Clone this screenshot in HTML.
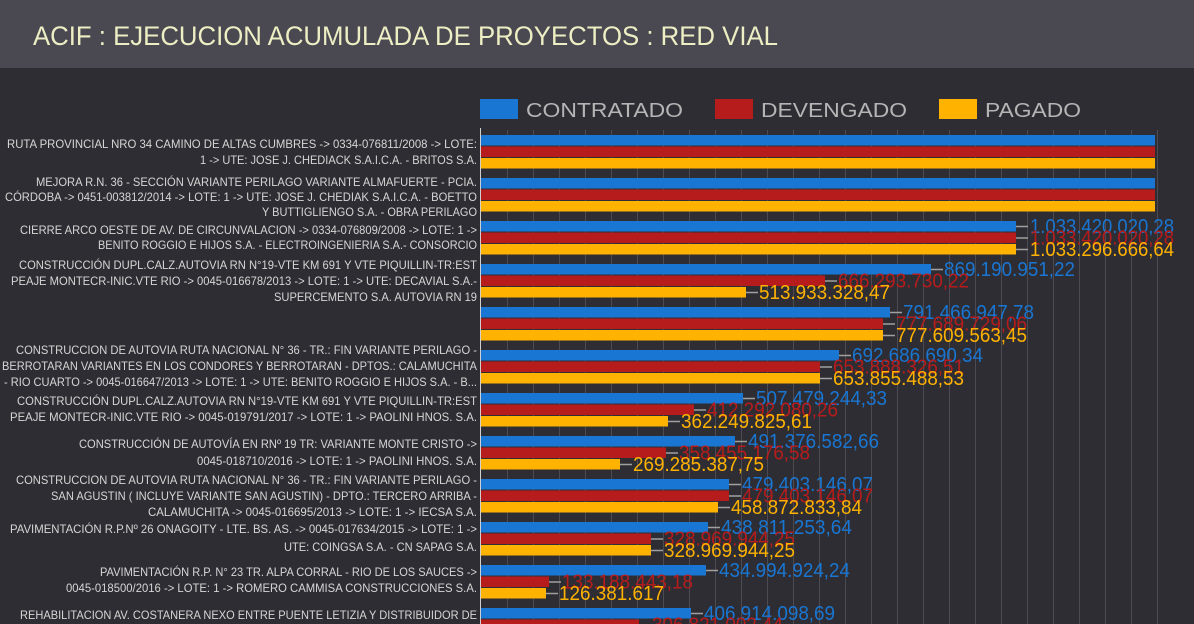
<!DOCTYPE html>
<html><head><meta charset="utf-8"><style>
html,body{margin:0;padding:0;background:#2e2d33;width:1194px;height:624px;overflow:hidden}
svg{display:block}
.yl{font-family:"Liberation Sans Narrow","Liberation Sans",sans-serif;font-size:12px;fill:#d6d6d6}
.v{font-family:"Liberation Sans Narrow","Liberation Sans",sans-serif;font-size:20px}
.b{fill:#1976d2}.r{fill:#b71c1c}.y{fill:#ffb300}
</style></head><body>
<svg width="1194" height="624" xmlns="http://www.w3.org/2000/svg">
<rect x="0" y="0" width="1194" height="68" fill="#4a4951"/>
<text x="33" y="45" font-family="Liberation Sans Narrow,Liberation Sans,sans-serif" font-size="27" fill="#eeeec4" textLength="745" lengthAdjust="spacingAndGlyphs">ACIF : EJECUCION ACUMULADA DE PROYECTOS : RED VIAL</text>
<rect x="480" y="99" width="38" height="20" fill="#1976d2"/>
<text x="526" y="117" font-family="Liberation Sans,sans-serif" font-size="20" fill="#b5b5b5" textLength="157" lengthAdjust="spacingAndGlyphs">CONTRATADO</text>
<rect x="715" y="99" width="38" height="20" fill="#b71c1c"/>
<text x="761" y="117" font-family="Liberation Sans,sans-serif" font-size="20" fill="#b5b5b5" textLength="146" lengthAdjust="spacingAndGlyphs">DEVENGADO</text>
<rect x="939" y="99" width="38" height="20" fill="#ffb300"/>
<text x="985" y="117" font-family="Liberation Sans,sans-serif" font-size="20" fill="#b5b5b5" textLength="96" lengthAdjust="spacingAndGlyphs">PAGADO</text>
<g stroke="#4c4b52" stroke-width="1">
<line x1="507.5" y1="130" x2="507.5" y2="624"/><line x1="533.5" y1="130" x2="533.5" y2="624"/><line x1="559.5" y1="130" x2="559.5" y2="624"/><line x1="585.5" y1="130" x2="585.5" y2="624"/><line x1="611.5" y1="130" x2="611.5" y2="624"/><line x1="637.5" y1="130" x2="637.5" y2="624"/><line x1="663.5" y1="130" x2="663.5" y2="624"/><line x1="689.5" y1="130" x2="689.5" y2="624"/><line x1="715.5" y1="130" x2="715.5" y2="624"/><line x1="741.5" y1="130" x2="741.5" y2="624"/><line x1="767.5" y1="130" x2="767.5" y2="624"/><line x1="793.5" y1="130" x2="793.5" y2="624"/><line x1="819.5" y1="130" x2="819.5" y2="624"/><line x1="845.5" y1="130" x2="845.5" y2="624"/><line x1="871.5" y1="130" x2="871.5" y2="624"/><line x1="897.5" y1="130" x2="897.5" y2="624"/><line x1="923.5" y1="130" x2="923.5" y2="624"/><line x1="949.5" y1="130" x2="949.5" y2="624"/><line x1="975.5" y1="130" x2="975.5" y2="624"/><line x1="1001.5" y1="130" x2="1001.5" y2="624"/><line x1="1027.5" y1="130" x2="1027.5" y2="624"/><line x1="1053.5" y1="130" x2="1053.5" y2="624"/><line x1="1079.5" y1="130" x2="1079.5" y2="624"/><line x1="1105.5" y1="130" x2="1105.5" y2="624"/><line x1="1131.5" y1="130" x2="1131.5" y2="624"/><line x1="1157.5" y1="130" x2="1157.5" y2="624"/>
</g>
<line x1="480.5" y1="128" x2="480.5" y2="624" stroke="#d0d0d0" stroke-width="1"/>
<g>
<rect x="481" y="135" width="674" height="10.5" class="b"/><rect x="481" y="146.5" width="674" height="10.5" class="r"/><rect x="481" y="158" width="674" height="10.5" class="y"/>
<rect x="481" y="178" width="674" height="10.5" class="b"/><rect x="481" y="189.5" width="674" height="10.5" class="r"/><rect x="481" y="201" width="674" height="10.5" class="y"/>
<rect x="481" y="221" width="535" height="10.5" class="b"/><rect x="481" y="232.5" width="535" height="10.5" class="r"/><rect x="481" y="244" width="535" height="10.5" class="y"/>
<rect x="481" y="264" width="450" height="10.5" class="b"/><rect x="481" y="275.5" width="344" height="10.5" class="r"/><rect x="481" y="287" width="265" height="10.5" class="y"/>
<rect x="481" y="307" width="409" height="10.5" class="b"/><rect x="481" y="318.5" width="402" height="10.5" class="r"/><rect x="481" y="330" width="402" height="10.5" class="y"/>
<rect x="481" y="350" width="358" height="10.5" class="b"/><rect x="481" y="361.5" width="339" height="10.5" class="r"/><rect x="481" y="373" width="339" height="10.5" class="y"/>
<rect x="481" y="393" width="262" height="10.5" class="b"/><rect x="481" y="404.5" width="213" height="10.5" class="r"/><rect x="481" y="416" width="187" height="10.5" class="y"/>
<rect x="481" y="436" width="254" height="10.5" class="b"/><rect x="481" y="447.5" width="185" height="10.5" class="r"/><rect x="481" y="459" width="139" height="10.5" class="y"/>
<rect x="481" y="479" width="248" height="10.5" class="b"/><rect x="481" y="490.5" width="248" height="10.5" class="r"/><rect x="481" y="502" width="237" height="10.5" class="y"/>
<rect x="481" y="522" width="227" height="10.5" class="b"/><rect x="481" y="533.5" width="170" height="10.5" class="r"/><rect x="481" y="545" width="170" height="10.5" class="y"/>
<rect x="481" y="565" width="225" height="10.5" class="b"/><rect x="481" y="576.5" width="68" height="10.5" class="r"/><rect x="481" y="588" width="65" height="10.5" class="y"/>
<rect x="481" y="608" width="210" height="10.5" class="b"/><rect x="481" y="619.5" width="158" height="10.5" class="r"/>
</g>
<g stroke="#a0a0a0" stroke-width="1.5">
<line x1="1016" y1="226.5" x2="1028" y2="226.5"/><line x1="1016" y1="238" x2="1028" y2="238"/><line x1="1016" y1="249.5" x2="1028" y2="249.5"/>
<line x1="931" y1="269.5" x2="943" y2="269.5"/><line x1="825" y1="281" x2="837" y2="281"/><line x1="746" y1="292.5" x2="758" y2="292.5"/>
<line x1="890" y1="312.5" x2="902" y2="312.5"/><line x1="883" y1="324" x2="895" y2="324"/><line x1="883" y1="335.5" x2="895" y2="335.5"/>
<line x1="839" y1="355.5" x2="851" y2="355.5"/><line x1="820" y1="367" x2="832" y2="367"/><line x1="820" y1="378.5" x2="832" y2="378.5"/>
<line x1="743" y1="398.5" x2="755" y2="398.5"/><line x1="694" y1="410" x2="706" y2="410"/><line x1="668" y1="421.5" x2="680" y2="421.5"/>
<line x1="735" y1="441.5" x2="747" y2="441.5"/><line x1="666" y1="453" x2="678" y2="453"/><line x1="620" y1="464.5" x2="632" y2="464.5"/>
<line x1="729" y1="484.5" x2="741" y2="484.5"/><line x1="729" y1="496" x2="741" y2="496"/><line x1="718" y1="507.5" x2="730" y2="507.5"/>
<line x1="708" y1="527.5" x2="720" y2="527.5"/><line x1="651" y1="539" x2="663" y2="539"/><line x1="651" y1="550.5" x2="663" y2="550.5"/>
<line x1="706" y1="570.5" x2="718" y2="570.5"/><line x1="549" y1="582" x2="561" y2="582"/><line x1="546" y1="593.5" x2="558" y2="593.5"/>
<line x1="691" y1="613.5" x2="703" y2="613.5"/><line x1="639" y1="625" x2="651" y2="625"/>
</g>
<g class="v">
<text x="1030" y="233" class="b" textLength="144" lengthAdjust="spacingAndGlyphs">1.033.420.020,28</text>
<text x="1030" y="244.5" class="r" textLength="144" lengthAdjust="spacingAndGlyphs">1.033.420.020,28</text>
<text x="1030" y="256" class="y" textLength="144" lengthAdjust="spacingAndGlyphs">1.033.296.666,64</text>
<text x="944" y="276" class="b" textLength="131" lengthAdjust="spacingAndGlyphs">869.190.951,22</text>
<text x="838" y="287.5" class="r" textLength="131" lengthAdjust="spacingAndGlyphs">666.293.730,22</text>
<text x="759" y="299" class="y" textLength="131" lengthAdjust="spacingAndGlyphs">513.933.328,47</text>
<text x="903" y="319" class="b" textLength="131" lengthAdjust="spacingAndGlyphs">791.466.947,78</text>
<text x="896" y="330.5" class="r" textLength="131" lengthAdjust="spacingAndGlyphs">777.689.729,06</text>
<text x="896" y="342" class="y" textLength="131" lengthAdjust="spacingAndGlyphs">777.609.563,45</text>
<text x="852" y="362" class="b" textLength="131" lengthAdjust="spacingAndGlyphs">692.686.690,34</text>
<text x="833" y="373.5" class="r" textLength="131" lengthAdjust="spacingAndGlyphs">653.888.326,51</text>
<text x="833" y="385" class="y" textLength="131" lengthAdjust="spacingAndGlyphs">653.855.488,53</text>
<text x="756" y="405" class="b" textLength="131" lengthAdjust="spacingAndGlyphs">507.479.244,33</text>
<text x="707" y="416.5" class="r" textLength="131" lengthAdjust="spacingAndGlyphs">412.292.080,26</text>
<text x="681" y="428" class="y" textLength="131" lengthAdjust="spacingAndGlyphs">362.249.825,61</text>
<text x="748" y="448" class="b" textLength="131" lengthAdjust="spacingAndGlyphs">491.376.582,66</text>
<text x="679" y="459.5" class="r" textLength="131" lengthAdjust="spacingAndGlyphs">358.455.176,58</text>
<text x="633" y="471" class="y" textLength="131" lengthAdjust="spacingAndGlyphs">269.285.387,75</text>
<text x="742" y="491" class="b" textLength="131" lengthAdjust="spacingAndGlyphs">479.403.146,07</text>
<text x="742" y="502.5" class="r" textLength="131" lengthAdjust="spacingAndGlyphs">479.403.146,07</text>
<text x="731" y="514" class="y" textLength="131" lengthAdjust="spacingAndGlyphs">458.872.833,84</text>
<text x="721" y="534" class="b" textLength="131" lengthAdjust="spacingAndGlyphs">438.811.253,64</text>
<text x="664" y="545.5" class="r" textLength="131" lengthAdjust="spacingAndGlyphs">328.969.944,25</text>
<text x="664" y="557" class="y" textLength="131" lengthAdjust="spacingAndGlyphs">328.969.944,25</text>
<text x="719" y="577" class="b" textLength="131" lengthAdjust="spacingAndGlyphs">434.994.924,24</text>
<text x="562" y="588.5" class="r" textLength="131" lengthAdjust="spacingAndGlyphs">133.188.443,18</text>
<text x="559" y="600" class="y" textLength="105" lengthAdjust="spacingAndGlyphs">126.381.617</text>
<text x="704" y="620" class="b" textLength="131" lengthAdjust="spacingAndGlyphs">406.914.098,69</text>
<text x="652" y="631.5" class="r" textLength="131" lengthAdjust="spacingAndGlyphs">306.821.002,44</text>
</g>
<g class="yl" text-anchor="end">
<text x="477" y="148" textLength="470" lengthAdjust="spacingAndGlyphs">RUTA PROVINCIAL NRO 34 CAMINO DE ALTAS CUMBRES -&gt; 0334-076811/2008 -&gt; LOTE:</text>
<text x="477" y="164" textLength="277" lengthAdjust="spacingAndGlyphs">1 -&gt; UTE: JOSE J. CHEDIACK S.A.I.C.A. - BRITOS S.A.</text>
<text x="477" y="186" textLength="441" lengthAdjust="spacingAndGlyphs">MEJORA R.N. 36 - SECCIÓN VARIANTE PERILAGO VARIANTE ALMAFUERTE - PCIA.</text>
<text x="477" y="201" textLength="472" lengthAdjust="spacingAndGlyphs">CÓRDOBA -&gt; 0451-003812/2014 -&gt; LOTE: 1 -&gt; UTE: JOSE J. CHEDIAK S.A.I.C.A. - BOETTO</text>
<text x="477" y="216" textLength="215" lengthAdjust="spacingAndGlyphs">Y BUTTIGLIENGO S.A. - OBRA PERILAGO</text>
<text x="477" y="234" textLength="457" lengthAdjust="spacingAndGlyphs">CIERRE ARCO OESTE DE AV. DE CIRCUNVALACION -&gt; 0334-076809/2008 -&gt; LOTE: 1 -&gt;</text>
<text x="477" y="249" textLength="379" lengthAdjust="spacingAndGlyphs">BENITO ROGGIO E HIJOS S.A. - ELECTROINGENIERIA S.A.- CONSORCIO</text>
<text x="477" y="269" textLength="458" lengthAdjust="spacingAndGlyphs">CONSTRUCCIÓN DUPL.CALZ.AUTOVIA RN N°19-VTE KM 691 Y VTE PIQUILLIN-TR:EST</text>
<text x="477" y="285" textLength="466" lengthAdjust="spacingAndGlyphs">PEAJE MONTECR-INIC.VTE RIO -&gt; 0045-016678/2013 -&gt; LOTE: 1 -&gt; UTE: DECAVIAL S.A.-</text>
<text x="477" y="301" textLength="203" lengthAdjust="spacingAndGlyphs">SUPERCEMENTO S.A. AUTOVIA RN 19</text>
<text x="477" y="354" textLength="461" lengthAdjust="spacingAndGlyphs">CONSTRUCCION DE AUTOVIA RUTA NACIONAL N° 36 - TR.: FIN VARIANTE PERILAGO -</text>
<text x="477" y="370" textLength="475" lengthAdjust="spacingAndGlyphs">BERROTARAN VARIANTES EN LOS CONDORES Y BERROTARAN - DPTOS.: CALAMUCHITA</text>
<text x="477" y="386" textLength="473" lengthAdjust="spacingAndGlyphs">- RIO CUARTO -&gt; 0045-016647/2013 -&gt; LOTE: 1 -&gt; UTE: BENITO ROGGIO E HIJOS S.A. - B...</text>
<text x="477" y="405" textLength="460" lengthAdjust="spacingAndGlyphs">CONSTRUCCIÓN DUPL.CALZ.AUTOVIA RN N°19-VTE KM 691 Y VTE PIQUILLIN-TR:EST</text>
<text x="477" y="421" textLength="467" lengthAdjust="spacingAndGlyphs">PEAJE MONTECR-INIC.VTE RIO -&gt; 0045-019791/2017 -&gt; LOTE: 1 -&gt; PAOLINI HNOS. S.A.</text>
<text x="477" y="448" textLength="398" lengthAdjust="spacingAndGlyphs">CONSTRUCCIÓN DE AUTOVÍA EN RNº 19 TR: VARIANTE MONTE CRISTO -&gt;</text>
<text x="477" y="465" textLength="280" lengthAdjust="spacingAndGlyphs">0045-018710/2016 -&gt; LOTE: 1 -&gt; PAOLINI HNOS. S.A.</text>
<text x="477" y="484" textLength="461" lengthAdjust="spacingAndGlyphs">CONSTRUCCION DE AUTOVIA RUTA NACIONAL N° 36 - TR.: FIN VARIANTE PERILAGO -</text>
<text x="477" y="500" textLength="426" lengthAdjust="spacingAndGlyphs">SAN AGUSTIN ( INCLUYE VARIANTE SAN AGUSTIN) - DPTO.: TERCERO ARRIBA -</text>
<text x="477" y="516" textLength="329" lengthAdjust="spacingAndGlyphs">CALAMUCHITA -&gt; 0045-016695/2013 -&gt; LOTE: 1 -&gt; IECSA S.A.</text>
<text x="477" y="533" textLength="467" lengthAdjust="spacingAndGlyphs">PAVIMENTACIÓN R.P.Nº 26 ONAGOITY - LTE. BS. AS. -&gt; 0045-017634/2015 -&gt; LOTE: 1 -&gt;</text>
<text x="477" y="551" textLength="193" lengthAdjust="spacingAndGlyphs">UTE: COINGSA S.A. - CN SAPAG S.A.</text>
<text x="477" y="576" textLength="377" lengthAdjust="spacingAndGlyphs">PAVIMENTACIÓN R.P. N° 23 TR. ALPA CORRAL - RIO DE LOS SAUCES -&gt;</text>
<text x="477" y="592" textLength="411" lengthAdjust="spacingAndGlyphs">0045-018500/2016 -&gt; LOTE: 1 -&gt; ROMERO CAMMISA CONSTRUCCIONES S.A.</text>
<text x="477" y="619" textLength="457" lengthAdjust="spacingAndGlyphs">REHABILITACION AV. COSTANERA NEXO ENTRE PUENTE LETIZIA Y DISTRIBUIDOR DE</text>
</g>
</svg>
</body></html>
